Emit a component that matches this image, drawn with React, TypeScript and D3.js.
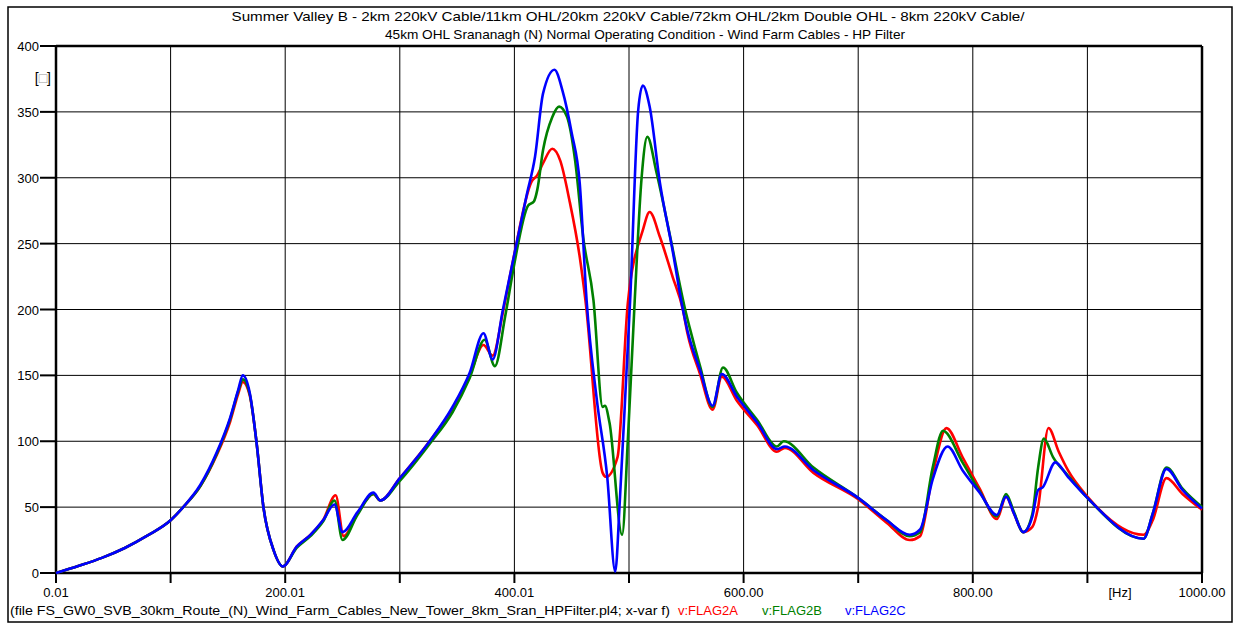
import React from "react";
import * as d3 from "d3";

// Frequency sweep (Hz) and impedance magnitude for each phase
const FREQ_A = [0,20,40,60,80,100,111,126,140,152,159,163,169,175,181,190,198,210,222,233,244,251,263,277,283,300,326,346,361,373,381,390,399,415,420,425,433,440,448,457,462,477,480,490,499,512,518,527,538,547,551,562,573,581,594,612,629,636,661,700,725,745,754,765,777,791,806,821,829,836,844,852,857,866,875,883,900,949,957,969,983,1000];
const FLAG2A = [0,5.5,11.5,19,28.5,40,50,66,89,115,136,145,135,99,50,17,5,20,29,40,59,28,45,60,55,72,100,125,150,173,165,198,238,297,302,311,322,313,283,240,207,76,73,88,205,260,274,255,225,200,182,151,124,149,131,112,92,95,76,56,38,25,28,75,110,88,64,41,58,45,31,35,50,110,92,78,58,29,40,72,60,48];

const FREQ_B = [0,20,40,60,80,100,111,126,140,152,159,163,169,175,181,190,198,210,222,233,243,250,263,277,283,300,326,346,361,374,383,392,400,412,417,420,425,433,439,446,453,460,469,477,479,483,494,499,505,511,516,524,536,549,553,562,573,582,594,612,629,635,661,700,725,745,754,765,774,791,806,821,829,836,844,852,857,862,870,883,900,949,957,969,983,1000];
const FLAG2B = [0,5.5,11.5,19,28.5,40,50,66,90,117,138,147,136,99,50,17,5,19,28,39,55,25,44,60,55,70,98,122,148,177,157,195,235,279,282,291,321,346,354,346,313,255,207,126,127,114,29,101,207,300,331,304,255,200,186,157,126,156,137,116,96,100,80,57,40,28,31,80,108,84,62,43,60,46,31,45,80,102,88,74,57,26,45,80,64,50];

const FREQ_C = [0,20,40,60,80,100,111,126,140,152,159,163,169,175,181,190,198,210,222,233,243,250,263,277,283,300,326,346,361,373,381,390,399,411,418,425,435,442,450,457,463,472,481,488,492,498,501,508,512,518,527,538,547,551,562,573,581,594,612,629,636,661,700,725,745,754,765,778,791,806,821,829,836,844,852,857,861,872,883,900,949,957,969,983,1000];
const FLAG2C = [0,5.5,11.5,19,28.5,40,50,67,91,118,139,150,137,99,50,17,5,20,29,40,52,31,46,61,55,72,100,126,152,182,162,200,238,288,316,364,382,366,334,296,207,131,73,1,55,156,207,351,370,354,296,245,200,184,154,127,151,134,114,94,96,78,57,40,29,33,71,96,78,61,44,58,45,31,43,63,65,84,73,57,26,45,79,63,49];

const Y_TICKS = [0, 50, 100, 150, 200, 250, 300, 350, 400];
const X_GRID = [0, 100, 200, 300, 400, 500, 600, 700, 800, 900, 1000];
const X_LABELS: [number, string][] = [
  [0, "0.01"],
  [200, "200.01"],
  [400, "400.01"],
  [600, "600.00"],
  [800, "800.00"],
  [1000, "1000.00"],
];

const TITLE_1 = "Summer Valley B - 2km 220kV Cable/11km OHL/20km 220kV Cable/72km OHL/2km Double OHL - 8km 220kV Cable/";
const TITLE_2 = "45km OHL Srananagh (N) Normal Operating Condition - Wind Farm Cables - HP Filter";
const FILE_NOTE = "(file FS_GW0_SVB_30km_Route_(N)_Wind_Farm_Cables_New_Tower_8km_Sran_HPFilter.pl4; x-var f)";

const SERIES = [
  { name: "v:FLAG2A", freq: FREQ_A, values: FLAG2A, color: "#ff0000" },
  { name: "v:FLAG2B", freq: FREQ_B, values: FLAG2B, color: "#008000" },
  { name: "v:FLAG2C", freq: FREQ_C, values: FLAG2C, color: "#0000ff" },
];

const W = 1235;
const H = 624;
const PLOT = { left: 56, top: 46, right: 1202, bottom: 573 };
const FONT = "'Liberation Sans', Arial, sans-serif";

export default function App() {
  const x = d3.scaleLinear().domain([0, 1000]).range([PLOT.left, PLOT.right]);
  const y = d3.scaleLinear().domain([0, 400]).range([PLOT.bottom, PLOT.top]);

  const lineFor = (freq: number[]) =>
    d3
      .line<number>()
      .x((_, i) => x(freq[i]))
      .y((v) => y(v))
      .curve(d3.curveMonotoneX);

  const legendX = [678, 762, 845];

  return (
    <svg
      width={W}
      height={H}
      style={{ position: "absolute", left: 0, top: 0, background: "#fff" }}
      fontFamily={FONT}
      fontSize={13}
    >
      <rect x={0} y={0} width={W} height={H} fill="#fff" />
      {/* outer frame */}
      <rect x={8} y={7} width={1224} height={615} fill="none" stroke="#000" strokeWidth={1.5} />

      {/* title */}
      <text x={628} y={21} textAnchor="middle" textLength={793} lengthAdjust="spacingAndGlyphs">
        {TITLE_1}
      </text>
      <text x={645} y={39} textAnchor="middle" textLength={520} lengthAdjust="spacingAndGlyphs">
        {TITLE_2}
      </text>

      {/* grid */}
      {Y_TICKS.map((t) => (
        <line key={"gy" + t} x1={PLOT.left} x2={PLOT.right} y1={y(t)} y2={y(t)} stroke="#000" strokeWidth={1} />
      ))}
      {X_GRID.map((t) => (
        <line key={"gx" + t} x1={x(t)} x2={x(t)} y1={PLOT.top} y2={PLOT.bottom} stroke="#000" strokeWidth={1} />
      ))}

      {/* y axis ticks and labels */}
      {Y_TICKS.map((t) => (
        <g key={"yt" + t}>
          <line x1={40} x2={PLOT.left} y1={y(t)} y2={y(t)} stroke="#000" strokeWidth={2} />
          <text x={39} y={y(t) + 5} textAnchor="end">
            {t}
          </text>
        </g>
      ))}
      <text x={51} y={83} textAnchor="end" fill="#000" fontSize={14}>
        [
        <tspan fill="#999">□</tspan>]
      </text>

      {/* x axis ticks and labels */}
      {X_GRID.map((t) => (
        <line key={"xt" + t} x1={x(t)} x2={x(t)} y1={PLOT.bottom} y2={583} stroke="#000" strokeWidth={2} />
      ))}
      {X_LABELS.map(([v, s]) => (
        <text key={"xl" + v} x={x(v)} y={597} textAnchor="middle">
          {s}
        </text>
      ))}
      <text x={1120} y={597} textAnchor="middle">
        [Hz]
      </text>

      {/* plot border */}
      <line x1={PLOT.left} x2={PLOT.right} y1={PLOT.top} y2={PLOT.top} stroke="#000" strokeWidth={2.5} />
      <line x1={PLOT.left} x2={PLOT.right} y1={PLOT.bottom} y2={PLOT.bottom} stroke="#000" strokeWidth={2.5} />
      <line x1={PLOT.left} x2={PLOT.left} y1={PLOT.top} y2={PLOT.bottom} stroke="#000" strokeWidth={2.5} />
      <line x1={PLOT.right} x2={PLOT.right} y1={PLOT.top} y2={PLOT.bottom} stroke="#000" strokeWidth={2.5} />

      {/* curves */}
      {SERIES.map((s) => (
        <path
          key={s.name}
          d={lineFor(s.freq)(s.values) || ""}
          fill="none"
          stroke={s.color}
          strokeWidth={2.6}
          strokeLinejoin="round"
        />
      ))}

      {/* legend */}
      <text x={10} y={615} textLength={660} lengthAdjust="spacingAndGlyphs">
        {FILE_NOTE}
      </text>
      {SERIES.map((s, i) => (
        <text key={"lg" + s.name} x={legendX[i]} y={615} fill={s.color}>
          {s.name}
        </text>
      ))}
    </svg>
  );
}
